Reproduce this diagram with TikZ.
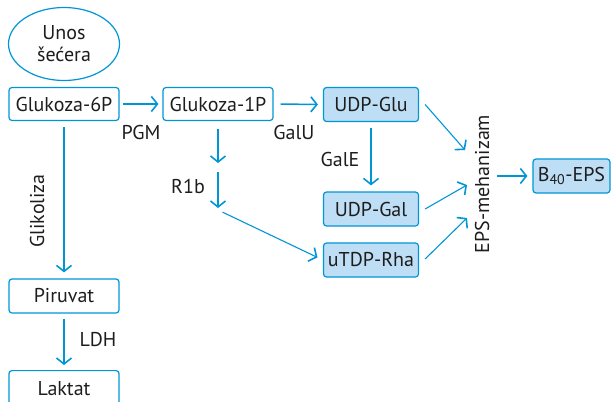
\documentclass[tikz,border=0pt]{standalone}
\usepackage{fontspec}
\setmainfont{PT Sans}
\usetikzlibrary{arrows.meta,shapes.geometric}
\definecolor{eblue}{RGB}{0,150,214}
\definecolor{efill}{RGB}{189,222,244}
\definecolor{etext}{RGB}{30,28,28}
\tikzset{
  box/.style={draw=eblue, line width=1.2pt, rounded corners=3pt, minimum width=110pt, minimum height=33pt, inner sep=0pt, text=etext, font=\fontsize{20}{22}\selectfont},
  fbox/.style={box, fill=efill, minimum width=95pt, minimum height=34pt},
  lbl/.style={text=etext, font=\fontsize{20}{22}\selectfont, inner sep=0pt},
  arr/.style={draw=eblue, line width=1.5pt, -{Straight Barb[length=6pt,width=15pt,line width=1.6pt]}},
  darr/.style={draw=eblue, line width=1.1pt, -{Straight Barb[length=6pt,width=15pt,line width=1.6pt]}}
}
\begin{document}
\begin{tikzpicture}[x=1pt,y=-1pt]
\useasboundingbox (0,0) rectangle (612,401);
\node[ellipse, draw=eblue, line width=1.2pt, minimum width=111pt, minimum height=73pt, inner sep=0pt, text=etext, font=\fontsize{20}{22}\selectfont, align=center] (unos) at (64,44) {Unos\\šećera};
\node[box] (g6p) at (64,104) {Glukoza-6P};
\node[box] (g1p) at (218,104) {Glukoza-1P};
\node[fbox] (glu) at (371,104.5) {UDP-Glu};
\node[fbox] (gal) at (371,209) {UDP-Gal};
\node[fbox] (rha) at (371,260) {uTDP-Rha};
\node[fbox, minimum width=77pt] (eps) at (571.5,176) {B\textsubscript{40}-EPS};
\node[box, minimum height=34pt] (pir) at (64,296) {Piruvat};
\node[box, minimum height=36pt, anchor=north] (lak) at (64,370) {Laktat};

\node[lbl] (pgm) at (141,132) {PGM};
\node[lbl] (galu) at (294,132) {GalU};
\node[lbl] (r1b) at (188,186) {R1b};
\node[lbl] (gale) at (340,159) {GalE};
\node[lbl, rotate=90] (glik) at (37,211) {Glikoliza};
\node[lbl] (ldh) at (98,340) {LDH};
\node[lbl, rotate=90] (mech) at (482,184) {EPS-mehanizam};

\coordinate (k1) at (218,167.5);
\coordinate (k2) at (218,210);
\coordinate (e1) at (465,150);
\coordinate (e2) at (467,185);
\coordinate (e3) at (467,218);

\draw[arr, shorten <=3pt, shorten >=4pt] (g6p) -- (g1p);
\draw[arr, shorten <=7pt, shorten >=5pt] (g1p.east) -- (glu.west);
\draw[arr, shorten <=8pt, shorten >=4.5pt] (g1p.south) -- (k1);
\draw[arr, shorten <=4.5pt, shorten >=2pt] (k1) -- (k2);
\draw[darr, shorten <=5pt, shorten >=6pt] (k2) -- (rha.west);
\draw[arr, shorten <=6pt, shorten >=6pt] (glu.south) -- (gal.north);
\draw[arr, shorten <=6pt, shorten >=6pt] (g6p.south) -- (pir.north);
\draw[arr, shorten <=5pt, shorten >=5pt] (pir.south) -- (lak.north);
\draw[darr] ([xshift=6pt]glu.east) -- (e1);
\draw[darr] ([xshift=6pt]gal.east) -- (e2);
\draw[darr] ([xshift=6pt,yshift=1pt]rha.east) -- (e3);
\draw[arr, shorten <=15pt, shorten >=5pt] (mech.center |- eps.west) -- (eps.west);
\end{tikzpicture}
\end{document}
